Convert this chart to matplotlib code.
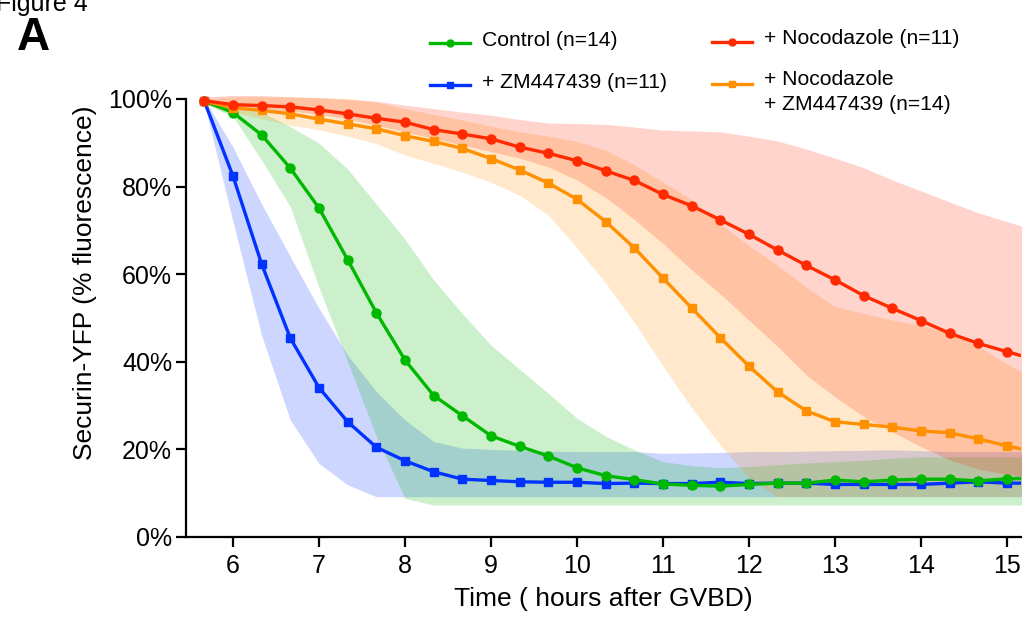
import numpy as np
import matplotlib
matplotlib.use("Agg")
import matplotlib.pyplot as plt
from matplotlib.lines import Line2D

plt.rcParams['font.family'] = ['Liberation Sans', 'DejaVu Sans']

# time points, every 20 min after GVBD
t = 17 / 3 + np.arange(30) / 3

ctrl = [99.5, 96.9, 91.8, 84.2, 75.1, 63.3, 51.2, 40.4, 32.3, 27.7, 23.1, 20.7, 18.5, 15.8, 14.0,
        13.1, 12.1, 11.8, 11.6, 12.0, 12.3, 12.3, 13.0, 12.6, 13.0, 13.2, 13.2, 12.8, 13.3, 13.4]
ctrl_hi = [100, 99, 97, 93.7, 89.9, 84, 76, 68, 58.7, 51, 43.8, 38.3, 32.8, 27.1, 23,
           19.9, 17.2, 16.3, 15.8, 16.1, 16.5, 16.9, 17.2, 17.5, 18, 18.3, 18.3, 18.3, 18.3, 18.3]
ctrl_lo = [99, 96, 86, 75.4, 57, 40, 23, 8.8, 7.3, 7.3, 7.3, 7.3, 7.3, 7.3, 7.3,
           7.3, 7.3, 7.3, 7.3, 7.3, 7.3, 7.3, 7.3, 7.3, 7.3, 7.3, 7.3, 7.3, 7.3, 7.3]

zm = [99.5, 82.4, 62.3, 45.4, 34.1, 26.3, 20.5, 17.4, 14.9, 13.2, 12.9, 12.6, 12.5, 12.5, 12.2,
      12.3, 12.2, 12.2, 12.5, 12.2, 12.3, 12.3, 12.0, 12.0, 12.0, 12.0, 12.3, 12.6, 12.3, 12.3]
zm_hi = [100, 89, 76, 64, 52.2, 41.5, 33.2, 26.7, 21.8, 20.3, 20, 19.8, 19.6, 19.5, 19.5,
         19.5, 19.1, 19.2, 19.3, 19.5, 19.5, 19.6, 19.7, 19.8, 19.9, 19.7, 19.5, 19.5, 19.5, 19.5]
zm_lo = [99, 72, 46, 26.7, 16.8, 11.9, 9.2, 9.2, 9.2, 9.2, 9.2, 9.2, 9.2, 9.2, 9.2,
         9.2, 9.2, 9.2, 9.2, 9.2, 9.2, 9.2, 9.2, 9.2, 9.2, 9.2, 9.2, 9.2, 9.2, 9.2]

noc = [99.6, 98.7, 98.5, 98.2, 97.5, 96.6, 95.6, 94.7, 93.0, 92.0, 90.9, 89.0, 87.6, 85.9, 83.6,
       81.4, 78.2, 75.6, 72.4, 69.1, 65.5, 62.0, 58.7, 55.1, 52.2, 49.4, 46.5, 44.2, 42.3, 40.5]
noc_hi = [100.5, 100.8, 100.8, 100.5, 100.3, 100, 99.5, 98.6, 97.8, 97, 96.3, 95.3, 94.5, 94.4, 94.2,
          93.6, 92.9, 92.7, 92.5, 91.5, 90.4, 88.6, 86.5, 84.3, 81.5, 79, 76.5, 74, 72, 70]
noc_lo = [99, 97.5, 97.5, 97.3, 96.5, 95.5, 94, 92.5, 91, 89.5, 88, 86.5, 84.5, 81.5, 77.5,
          72.5, 67, 61, 55.5, 49.5, 43.5, 37, 32, 27.5, 24, 20.6, 17.6, 15.5, 14.3, 13.3]

noczm = [99.5, 98.0, 97.4, 96.6, 95.4, 94.3, 93.2, 91.6, 90.3, 88.7, 86.4, 83.8, 80.8, 77.1, 72.0,
         66.0, 59.1, 52.3, 45.5, 39.0, 33.1, 28.8, 26.3, 25.7, 25.1, 24.2, 23.8, 22.4, 20.8, 19.4]
noczm_hi = [100, 100.5, 100.5, 100.5, 100.3, 100, 99.3, 97.8, 96.5, 95.2, 93.8, 92.5, 91.5, 90.3, 88.3,
            85, 81, 77, 71.5, 66.5, 62, 57, 52.6, 51, 49.5, 48.3, 46.5, 43.5, 39.5, 36]
noczm_lo = [99, 97, 95.5, 94, 93, 91.5, 89.8, 87.2, 85.3, 83.3, 81, 78, 73.5, 66, 58,
            49, 39, 29.5, 21, 13.5, 9.2, 9.2, 9.2, 9.2, 9.2, 9.2, 9.2, 9.2, 9.2, 9.2]

series = [
    ("+ ZM447439 (n=11)", zm, zm_lo, zm_hi, "#0033ff", "s"),
    ("Control (n=14)", ctrl, ctrl_lo, ctrl_hi, "#00b800", "o"),
    ("+ Nocodazole\n+ ZM447439 (n=14)", noczm, noczm_lo, noczm_hi, "#ff9000", "s"),
    ("+ Nocodazole (n=11)", noc, noc_lo, noc_hi, "#ff2a00", "o"),
]

fig = plt.figure(figsize=(10.26, 6.23), dpi=100)
ax = fig.add_axes([186 / 1026, 86 / 623, 835 / 1026, 442.4 / 623])

for name, m, lo, hi, c, mk in series:
    ax.fill_between(t, lo, hi, color=c, alpha=0.2, lw=0, zorder=1)
for name, m, lo, hi, c, mk in series:
    ax.plot(t, m, color=c, lw=2.4, marker=mk, ms=6 if mk == "s" else 6.5, zorder=3)

ax.set_xlim(5.4535, 15.163)
ax.set_ylim(0, 101)
ax.spines['top'].set_visible(False)
ax.spines['right'].set_visible(False)
ax.spines['left'].set_bounds(0, 100)
ax.spines['left'].set_linewidth(1.6)
ax.spines['bottom'].set_linewidth(1.6)
ax.set_xticks(range(6, 16))
ax.set_yticks(range(0, 101, 20))
ax.set_yticklabels([f"{v}%" for v in range(0, 101, 20)])
ax.tick_params(labelsize=18, width=1.6, length=7, pad=3)
ax.tick_params(axis='x', pad=5)
ax.set_xlabel("Time ( hours after GVBD)", fontsize=19, labelpad=7)
ax.set_ylabel("Securin-YFP (% fluorescence)", fontsize=19)
ax.yaxis.set_label_coords(-0.107, 0.575)

# legend drawn by hand in figure pixels
leg = [
    ("Control (n=14)", "#00b800", "o", 430, 43, 482, 41),
    ("+ ZM447439 (n=11)", "#0033ff", "s", 430, 85, 482, 83),
    ("+ Nocodazole (n=11)", "#ff2a00", "o", 712, 42, 764, 38),
    ("+ Nocodazole\n+ ZM447439 (n=14)", "#ff9000", "s", 712, 84, 764, 78),
]
for lab, c, mk, lx, ly, tx, ty in leg:
    fig.add_artist(Line2D([lx / 1026, (lx + 20) / 1026, (lx + 40) / 1026],
                          [1 - ly / 623] * 3, color=c, lw=2.4,
                          marker=mk, markevery=[1], ms=5, transform=fig.transFigure))
    if "\n" in lab:
        fig.text(tx / 1026, 1 - (ty - 8) / 623, lab, fontsize=15.2, va='top', linespacing=1.42)
    else:
        fig.text(tx / 1026, 1 - ty / 623, lab, fontsize=15.2, va='center')

fig.text(-0.004, 1 - 11 / 623, "Figure 4", fontsize=18, va='baseline')
fig.text(17 / 1026, 1 - 50 / 623, "A", fontsize=33, weight='bold', va='baseline')

fig.savefig("out.png", dpi=100)
